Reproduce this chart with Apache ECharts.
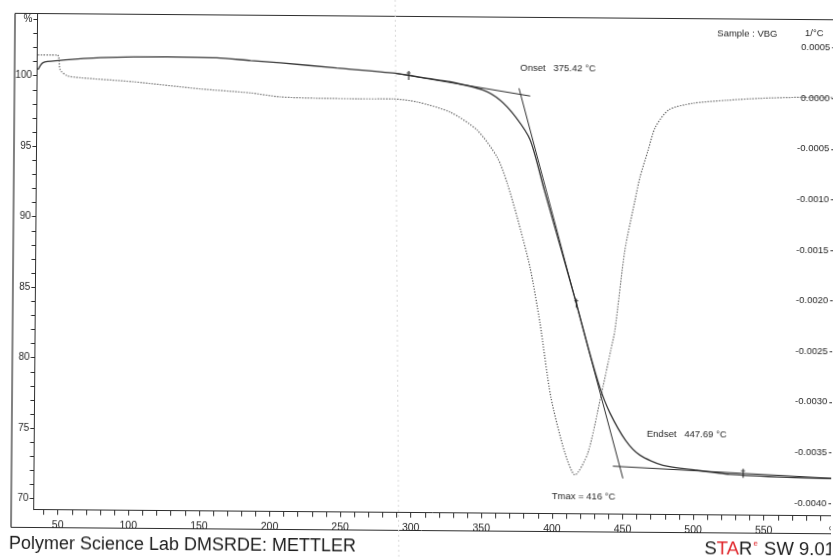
<!DOCTYPE html>
<html>
<head>
<meta charset="utf-8">
<title>TGA / DTG – VBG</title>
<script src="https://cdn.jsdelivr.net/npm/echarts@6/dist/echarts.min.js"></script>
<style>
  html, body { margin: 0; padding: 0; background: #fff; overflow: hidden; }
  #chart { width: 833px; height: 557px; transform: rotate(0.45deg); transform-origin: 50% 50%; }
</style>
</head>
<body>
<div id="chart"></div>
<script>
// TGA: sample temperature (°C) and remaining mass (%)
const tgaTemp = [33.5, 37, 48, 77.5, 125, 160, 184, 205, 245, 286.5, 310, 325.4, 348.9, 360.9, 372.1,
                 382.5, 392.7, 404, 416, 425, 433.3, 440.5, 451.6, 461.9, 478.2, 502.3, 525.7, 566.1, 600];
const tgaMass = [100.43, 100.93, 101.08, 101.31, 101.41, 101.37, 101.19, 101.05, 100.71, 100.37, 100.02, 99.80, 99.23, 98.53, 97.33,
                 95.71, 92.17, 88.3, 84.16, 80.9, 78.16, 76.39, 74.48, 73.43, 72.72, 72.39, 72.12, 71.94, 71.87];

// DTG: first derivative of the normalised mass (1/°C)
const dtgTemp = [33.5, 47, 48.1, 49.2, 54.1, 63.3, 100.9, 148.3, 183.9, 205.1, 231.2, 260, 285.2, 302.3, 325.6,
                 344.8, 359.1, 366.4, 373.6, 383.0, 390.4, 398.5, 408.8, 416, 425, 433.8, 440.7, 443.5, 450.1,
                 457, 460.4, 466, 471, 480.5, 497.6, 521.7, 545, 573.4, 598];
const dtgRate = [0.00037, 0.00037, 0.00035, 0.000224, 0.000166, 0.000147, 0.000111, 0.000046, 0.00001, -0.000027, -0.0000375, -0.00004, -0.000039, -0.000067, -0.000164,
                 -0.00034, -0.000605, -0.000862, -0.001196, -0.00169, -0.002242, -0.002972, -0.003524, -0.00374, -0.003523, -0.002969, -0.002503, -0.002306, -0.001517,
                 -0.001021, -0.000792, -0.000526, -0.000297, -0.000124, -0.000058, -0.0000257, -0.000004, 0.0000089, 0.00001];

// Evaluation results
const onsetT = 375.42;
const endsetT = 447.69;
const tmaxT = 416;

// Baselines used for the onset / endset construction (start and end points)
const onsetBaseT = [286.5, 382.2];
const onsetBaseW = [100.37, 98.83];
const endsetBaseT = [442.8, 600];
const endsetBaseW = [72.63, 71.88];

// Evaluation limit markers on the TGA curve
const markerT = [296, 416, 535];
const markerW = [100.22, 84.16, 72.19];

// Axis tick labels
const tempLabels = [50, 100, 150, 200, 250, 300, 350, 400, 450, 500, 550, 600];
const massLabels = [70, 75, 80, 85, 90, 95, 100, 104];
const rateLabels = [-0.004, -0.0035, -0.003, -0.0025, -0.002, -0.0015, -0.001, -0.0005, 0, 0.0005];

const tempTicks = [];
for (let t = 40; t <= 600; t += 10) tempTicks.push(t);
const massTicks = [];
for (let m = 70; m <= 104; m += 1) massTicks.push(m);

const zip = (a, b) => a.map((v, i) => [v, b[i]]);
const lineAt = (ts, ws, t) => ws[0] + (ws[1] - ws[0]) * (t - ts[0]) / (ts[1] - ts[0]);

// Steepest tangent through the onset and endset points on the two baselines
const wOn = lineAt(onsetBaseT, onsetBaseW, onsetT);
const wEnd = lineAt(endsetBaseT, endsetBaseW, endsetT);
const slope = (wEnd - wOn) / (endsetT - onsetT);
const tanStart = onsetT - 1.2;
const tanEnd = endsetT + 2.3;
const steepTangent = [[tanStart, wOn + slope * (tanStart - onsetT)], [tanEnd, wOn + slope * (tanEnd - onsetT)]];

const ink = '#2e2e2e';
const txt = '#262626';
const smallFont = 'Liberation Sans, Arial, sans-serif';

const chart = echarts.init(document.getElementById('chart'), null, { renderer: 'canvas', width: 833, height: 557 });

chart.setOption({
  animation: false,
  backgroundColor: '#ffffff',
  grid: { left: 35.4, top: 16.5, width: 800.9, height: 496.2, outerBoundsMode: 'none' },
  xAxis: {
    type: 'value', min: 32.8, max: 600,
    axisLine: { onZero: false, lineStyle: { color: ink, width: 1 } },
    axisTick: { customValues: tempTicks, length: 5, lineStyle: { color: ink, width: 1 } },
    axisLabel: {
      customValues: tempLabels, margin: 10, fontSize: 10.5, color: txt,
      fontFamily: 'Liberation Sans Narrow, Liberation Sans, sans-serif',
      formatter: v => (v === 600 ? '°C' : String(v))
    },
    splitLine: { show: false }
  },
  yAxis: [
    {
      type: 'value', min: 69.22, max: 104.41, position: 'left',
      axisLine: { show: true, onZero: false, lineStyle: { color: ink, width: 1 } },
      axisTick: { show: true, customValues: massTicks, length: 4, lineStyle: { color: ink, width: 1 } },
      axisLabel: {
        customValues: massLabels, margin: 5, fontSize: 10, color: txt, fontFamily: smallFont,
        formatter: v => (v === 104 ? '%' : String(v))
      },
      splitLine: { show: false }
    },
    {
      type: 'value', min: -0.004125, max: 0.000778, position: 'right',
      axisLine: { show: true, onZero: false, lineStyle: { color: ink, width: 1 } },
      axisTick: { show: true, inside: true, customValues: rateLabels, length: 6, lineStyle: { color: ink, width: 1 } },
      axisLabel: {
        inside: true, customValues: rateLabels, margin: 8, fontSize: 9.5, color: txt, fontFamily: smallFont,
        formatter: v => v.toFixed(4)
      },
      splitLine: { show: false }
    }
  ],
  series: [
    {
      name: 'TGA', type: 'line', yAxisIndex: 0, data: zip(tgaTemp, tgaMass),
      smooth: 0.25, showSymbol: false,
      lineStyle: { color: '#383838', width: 1.3 }, z: 3
    },
    {
      name: 'DTG', type: 'line', yAxisIndex: 1, data: zip(dtgTemp, dtgRate),
      smooth: 0.25, showSymbol: false,
      lineStyle: { color: '#505050', width: 1.2, type: [1.2, 1.6] }, z: 2
    },
    {
      name: 'Onset baseline', type: 'line', yAxisIndex: 0, data: zip(onsetBaseT, onsetBaseW),
      showSymbol: false, lineStyle: { color: ink, width: 1 }, z: 4
    },
    {
      name: 'Steepest tangent', type: 'line', yAxisIndex: 0, data: steepTangent,
      showSymbol: false, lineStyle: { color: ink, width: 1 }, z: 4
    },
    {
      name: 'Endset baseline', type: 'line', yAxisIndex: 0, data: zip(endsetBaseT, endsetBaseW),
      showSymbol: false, lineStyle: { color: ink, width: 1 }, z: 4
    },
    {
      name: 'Limits', type: 'scatter', yAxisIndex: 0, data: zip(markerT, markerW),
      symbol: 'path://M1.3,0 H2.5 V10 H1.3 Z M0,1.6 H3.6 V2.8 H0 Z', symbolSize: [4, 9],
      itemStyle: { color: '#1e1e1e' }, z: 5
    }
  ],
  graphic: [
    // outer frame of the printout
    { type: 'line', shape: { x1: 13, y1: 16.5, x2: 840, y2: 16.5 }, style: { stroke: ink, lineWidth: 1.2 } },
    { type: 'line', shape: { x1: 13, y1: 16.5, x2: 13, y2: 530.5 }, style: { stroke: ink, lineWidth: 1.2 } },
    { type: 'line', shape: { x1: 13, y1: 530.5, x2: 840, y2: 530.5 }, style: { stroke: ink, lineWidth: 1 } },
    // fold in the paper
    { type: 'line', silent: true, shape: { x1: 393, y1: 0, x2: 401, y2: 557 }, style: { stroke: '#d9d9d9', lineWidth: 1, lineDash: [2, 3] } },
    // annotations
    { type: 'text', x: 518.5, y: 67.3, style: { text: 'Onset   375.42 °C', fill: txt, font: '9.5px ' + smallFont, textVerticalAlign: 'middle' } },
    { type: 'text', x: 648, y: 432.4, style: { text: 'Endset   447.69 °C', fill: txt, font: '9.5px ' + smallFont, textVerticalAlign: 'middle' } },
    { type: 'text', x: 553.5, y: 495, style: { text: 'Tmax = 416 °C', fill: txt, font: '9.5px ' + smallFont, textVerticalAlign: 'middle' } },
    { type: 'text', x: 715.3, y: 30.9, style: { text: 'Sample : VBG', fill: txt, font: '9.5px ' + smallFont, textVerticalAlign: 'middle' } },
    { type: 'text', x: 812.3, y: 30.2, style: { text: '1/°C', fill: txt, font: '9.5px ' + smallFont, textAlign: 'center', textVerticalAlign: 'middle' } },
    // footer
    { type: 'text', x: 11, y: 547, style: { text: 'Polymer Science Lab DMSRDE: METTLER', fill: '#1c1c1c', font: '18px Liberation Sans, Arial, sans-serif', textVerticalAlign: 'middle' } },
    {
      type: 'text', x: 706.5, y: 547,
      style: {
        text: '{k|S}{r|TA}{k|R}{e|e}{k| SW 9.01}',
        textVerticalAlign: 'middle',
        rich: {
          k: { fill: '#1c1c1c', fontSize: 18.5, fontFamily: 'Liberation Sans, Arial, sans-serif', lineHeight: 20 },
          r: { fill: '#e0262b', fontSize: 18.5, fontFamily: 'Liberation Sans, Arial, sans-serif', lineHeight: 20 },
          e: { fill: '#e0262b', fontSize: 8, fontFamily: 'Liberation Sans, Arial, sans-serif', verticalAlign: 'top', lineHeight: 20, padding: [0, 1, 0, 1] }
        }
      }
    }
  ]
});
</script>
</body>
</html>
